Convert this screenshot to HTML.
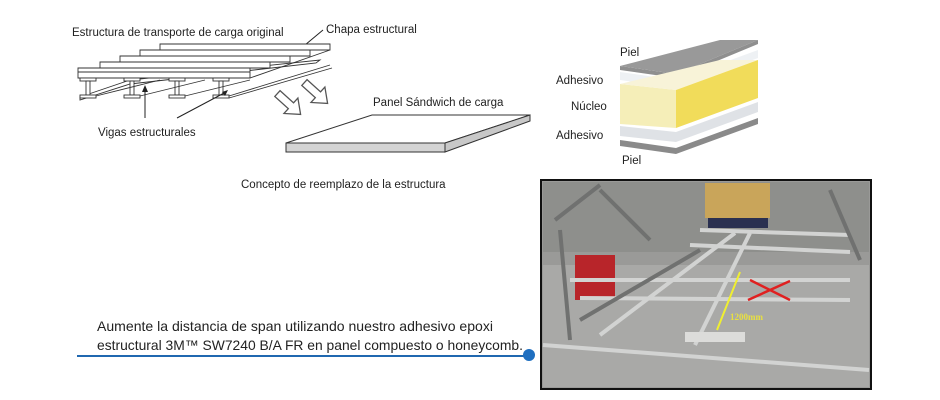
<!DOCTYPE html>
<html><head><meta charset="utf-8"><style>
html,body{margin:0;padding:0;background:#fff;}
svg{display:block;font-family:"Liberation Sans",sans-serif;}
</style></head><body>
<svg width="940" height="400" viewBox="0 0 940 400">
<text x="72" y="36" font-size="11.5" fill="#222">Estructura de transporte de carga original</text>
<text x="326" y="33" font-size="11.5" fill="#222">Chapa estructural</text>
<line x1="323" y1="30" x2="305" y2="45" stroke="#222" stroke-width="1"/>
<g stroke="#333" stroke-width="0.9" fill="#fff">
  <polygon points="80,97 130,80 320,60 316,63 130,84 80,100"/>
  <polygon points="160,44 330,44 330,50 160,50"/>
  <polygon points="140,50 310,50 310,56 140,56"/>
  <polygon points="120,56 290,56 290,62 120,62"/>
  <polygon points="100,62 270,62 270,68 100,68"/>
  <polygon points="78,68 250,68 250,78 78,78"/>
  <line x1="78" y1="72" x2="250" y2="72"/>
  <line x1="250" y1="78" x2="330" y2="50"/>
  <g>
    <rect x="80" y="78" width="16" height="3"/><rect x="86" y="81" width="4" height="14"/><rect x="80" y="95" width="16" height="3"/>
    <rect x="124" y="78" width="16" height="3"/><rect x="130" y="81" width="4" height="14"/><rect x="124" y="95" width="16" height="3"/>
    <rect x="169" y="78" width="16" height="3"/><rect x="175" y="81" width="4" height="14"/><rect x="169" y="95" width="16" height="3"/>
    <rect x="213" y="78" width="16" height="3"/><rect x="219" y="81" width="4" height="14"/><rect x="213" y="95" width="16" height="3"/>
  </g>
  <line x1="96" y1="96" x2="160" y2="80"/>
  <line x1="140" y1="96" x2="205" y2="80"/>
  <line x1="185" y1="96" x2="250" y2="80"/>
  <line x1="229" y1="96" x2="330" y2="65"/>
  <line x1="229" y1="98" x2="332" y2="68"/>
</g>
<line x1="145" y1="118" x2="145" y2="90" stroke="#222"/>
<polygon points="142,92 148,92 145,85" fill="#222"/>
<line x1="177" y1="118" x2="226" y2="92" stroke="#222"/>
<polygon points="222,92 228,90 225,96" fill="#222"/>
<text x="98" y="136" font-size="11.5" fill="#222">Vigas estructurales</text>
<g fill="#fff" stroke="#555" stroke-width="1">
  <polygon transform="translate(289,104) rotate(42) scale(1.3)" points="-12,-3 2,-3 2,-8 12,0 2,8 2,3 -12,3"/>
  <polygon transform="translate(316,93) rotate(42) scale(1.3)" points="-12,-3 2,-3 2,-8 12,0 2,8 2,3 -12,3"/>
</g>
<text x="373" y="106" font-size="11.5" fill="#222">Panel Sándwich de carga</text>
<polygon points="286,143 372,115 530,115 445,143" fill="#fff" stroke="#333"/>
<polygon points="286,143 445,143 445,152 286,152" fill="#d4d4d4" stroke="#333"/>
<polygon points="445,143 530,115 530,121 445,152" fill="#c8c8c8" stroke="#333"/>
<text x="241" y="188" font-size="11.5" fill="#222">Concepto de reemplazo de la estructura</text>
<text x="620" y="56" font-size="11.5" fill="#222">Piel</text>
<text x="556" y="84" font-size="11.5" fill="#222">Adhesivo</text>
<text x="571" y="110" font-size="11.5" fill="#222">Núcleo</text>
<text x="556" y="139" font-size="11.5" fill="#222">Adhesivo</text>
<text x="622" y="164" font-size="11.5" fill="#222">Piel</text>
<polygon points="620,72 676,80 758,50 758,58 676,88 620,80" fill="#eef1f4"/>
<polygon points="620,66 676,74 758,40 758,44 676,78 620,70" fill="#8f8f8f"/>
<polygon points="620,66 676,74 758,40 720,40" fill="#999"/>
<polygon points="620,84 676,90 676,128 620,124" fill="#f5eeb8"/>
<polygon points="620,84 676,90 758,60 720,60" fill="#f8f3d8"/>
<polygon points="676,90 758,60 758,98 676,128" fill="#f1dc5a"/>
<polygon points="620,126 676,132 758,102 758,112 676,142 620,136" fill="#dfe2e6"/>
<polygon points="620,140 676,148 758,118 758,124 676,154 620,146" fill="#8a8a8a"/>
<rect x="541" y="180" width="330" height="209" fill="#9a9a98" stroke="#111" stroke-width="2"/>
<rect x="543" y="182" width="326" height="70" fill="#8e8f8c"/>
<rect x="705" y="183" width="65" height="35" fill="#c9a55a"/>
<rect x="708" y="218" width="60" height="10" fill="#2a3050"/>
<rect x="543" y="265" width="326" height="122" fill="#a9a9a7"/>
<rect x="575" y="255" width="40" height="45" fill="#b8252a"/>
<g stroke="#d2d3d2" stroke-width="4" fill="none">
  <line x1="570" y1="280" x2="850" y2="280"/>
  <line x1="580" y1="298" x2="850" y2="300"/>
  <line x1="700" y1="230" x2="850" y2="235"/>
  <line x1="690" y1="245" x2="850" y2="252"/>
  <line x1="600" y1="335" x2="735" y2="233"/>
  <line x1="695" y1="345" x2="750" y2="233"/>
  <line x1="543" y1="345" x2="869" y2="370"/>
</g>
<g stroke="#707170" stroke-width="4" fill="none">
  <line x1="555" y1="220" x2="600" y2="185"/>
  <line x1="600" y1="190" x2="650" y2="240"/>
  <line x1="830" y1="190" x2="860" y2="260"/>
  <line x1="560" y1="230" x2="570" y2="340"/>
  <line x1="580" y1="320" x2="700" y2="250"/>
</g>
<rect x="685" y="332" width="60" height="10" fill="#dcdcda"/>
<line x1="740" y1="272" x2="717" y2="330" stroke="#f0ef30" stroke-width="2"/>
<g stroke="#e02020" stroke-width="2.5"><line x1="750" y1="280" x2="790" y2="300"/><line x1="748" y1="300" x2="790" y2="281"/></g>
<text x="730" y="320" font-size="9" font-family="Liberation Serif,serif" font-weight="bold" fill="#e8e040">1200mm</text>
<text x="97" y="331" font-size="14" fill="#222" textLength="396" lengthAdjust="spacingAndGlyphs">Aumente la distancia de span utilizando nuestro adhesivo epoxi</text>
<text x="97" y="350" font-size="14" fill="#222" textLength="426" lengthAdjust="spacingAndGlyphs">estructural 3M™ SW7240 B/A FR en panel compuesto o honeycomb.</text>
<line x1="77" y1="356" x2="528" y2="356" stroke="#2068b0" stroke-width="2"/>
<circle cx="529" cy="355" r="6" fill="#1f6fc0"/>
</svg>
</body></html>
